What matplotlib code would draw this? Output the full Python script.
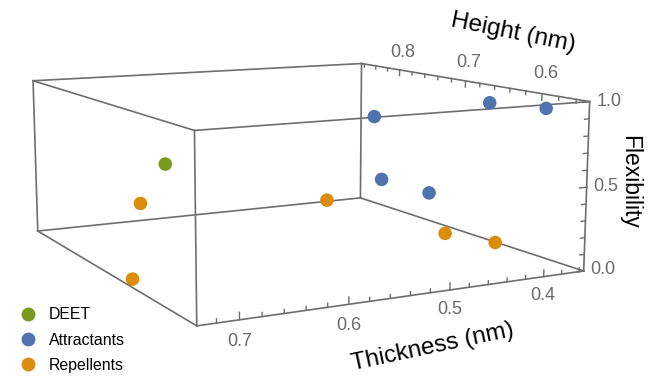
import numpy as np
import matplotlib
matplotlib.use("Agg")
import matplotlib.pyplot as plt
from matplotlib.lines import Line2D

# --- data (thickness nm, height nm, flexibility) ---------------------------
deet_thick = [0.655]
deet_height = [0.75]
deet_flex = [0.545]

attr_thick = [0.575, 0.438, 0.398, 0.490, 0.478]
attr_height = [0.548, 0.573, 0.55, 0.65, 0.60]
attr_flex = [1.0, 1.0, 0.973, 0.486, 0.463]

rep_thick = [0.681, 0.444, 0.418, 0.404, 0.734]
rep_height = [0.75, 0.80, 0.65, 0.60, 0.66]
rep_flex = [0.313, 0.125, 0.105, 0.117, 0.036]

labels = ["DEET", "Attractants", "Repellents"]

thick_ticks = [0.4, 0.5, 0.6, 0.7]
height_ticks = [0.6, 0.7, 0.8]
flex_ticks = [0.0, 0.5, 1.0]

xlim = (0.737, 0.355)  # thickness runs right to left
ylim = (0.545, 0.865)
zlim = (0.0, 1.0)

C_DEET = "#789a1e"
C_ATTR = "#4e73ae"
C_REP = "#db8c0a"
EDGE = "#6e6e6e"
TICKLBL = "#6a6a6a"

plt.rcParams["font.family"] = ["Liberation Sans", "DejaVu Sans"]

fig = plt.figure(figsize=(6.57, 3.8), dpi=100)
# camera fitted to the reference box corners (perspective, Mathematica-like)
ax = fig.add_axes([0.17404, 0.07723, 0.53272, 0.92105], projection="3d",
                  computed_zorder=False)
ax.set_xlim(*xlim)
ax.set_ylim(*ylim)
ax.set_zlim(*zlim)
ax.set_box_aspect((1, 1.0363, 0.4029), zoom=1.6635)
ax.set_proj_type("persp", focal_length=0.7574)
ax.view_init(elev=9.799, azim=-117.966)
ax.set_xticks([])
ax.set_yticks([])
ax.set_zticks([])
ax.set_axis_off()
# the built-in (empty) axis texts are never shown
for txt in (ax.title, ax._left_title, ax._right_title):
    txt.set_visible(False)
for axis in (ax.xaxis, ax.yaxis, ax.zaxis):
    axis.label.set_visible(False)
    axis.offsetText.set_visible(False)

M = ax.get_proj()


def edge(xs, ys, zs, lw=1.2):
    ax.plot(xs, ys, zs, color=EDGE, lw=lw, zorder=1, clip_on=False)


def tick_label(x, y, z, s, **kw):
    # project the 3D anchor once, then place a plain 2D text there
    v = M @ np.array([x, y, z, 1.0])
    ax.text2D(v[0] / v[3], v[1] / v[3], s, transform=ax.transData,
              color=TICKLBL, fontsize=13, va="center", **kw)


# --- bounding box -----------------------------------------------------------
x0, x1 = xlim
y0, y1 = ylim
z0, z1 = zlim
for ya in (y0, y1):
    for za in (z0, z1):
        edge([x0, x1], [ya, ya], [za, za])
for xa in (x0, x1):
    for za in (z0, z1):
        edge([xa, xa], [y0, y1], [za, za])
for xa in (x0, x1):
    for ya in (y0, y1):
        edge([xa, xa], [ya, ya], [z0, z1])

# thickness axis on the front bottom edge
for t in np.arange(0.36, 0.7301, 0.02):
    major = any(abs(t - m) < 1e-6 for m in thick_ticks)
    edge([t, t], [y0, y0], [z0, z0 + (0.04 if major else 0.022)], lw=1.0)
for t in thick_ticks:
    tick_label(t, y0, z0 - 0.115, f"{t:.1f}", ha="center")

# height axis on the top right edge
for h in np.arange(0.56, 0.8601, 0.02):
    major = any(abs(h - m) < 1e-6 for m in height_ticks)
    edge([x1, x1], [h, h], [z1, z1 - (0.04 if major else 0.022)], lw=1.0)
for h in height_ticks:
    tick_label(x1 - 0.004, h, z1 + 0.12, f"{h:.1f}", ha="center")

# flexibility axis on the front right edge
for f in np.arange(0.0, 1.0001, 0.1):
    major = any(abs(f - m) < 1e-6 for m in flex_ticks)
    edge([x1, x1 + (0.008 if major else 0.005)], [y0, y0], [f, f], lw=1.0)
for f in flex_ticks:
    tick_label(x1 - 0.008, y0, f, f"{f:.1f}", ha="left")

# --- points -----------------------------------------------------------------
for xs, ys, zs, col in ((rep_thick, rep_height, rep_flex, C_REP),
                        (attr_thick, attr_height, attr_flex, C_ATTR),
                        (deet_thick, deet_height, deet_flex, C_DEET)):
    ax.scatter(xs, ys, zs, color=col, s=95, depthshade=False,
               edgecolors="none", zorder=3, clip_on=False)

# axis titles
fig.text(433 / 657, 1 - 347 / 380, "Thickness (nm)", fontsize=17.5,
         rotation=12, ha="center", va="center", rotation_mode="anchor")
fig.text(513 / 657, 1 - 33 / 380, "Height (nm)", fontsize=17.5,
         rotation=-11.5, ha="center", va="center", rotation_mode="anchor")
fig.text(630 / 657, 1 - 182 / 380, "Flexibility", fontsize=16.5,
         rotation=-90, ha="center", va="center", rotation_mode="anchor")

handles = [Line2D([], [], ls="none", marker="o", ms=10, color=c, mec="none")
           for c in (C_DEET, C_ATTR, C_REP)]
fig.legend(handles, labels, loc="upper left",
           bbox_to_anchor=(0.018, 1 - 301 / 380), frameon=False,
           fontsize=11.4, handletextpad=0.75, labelspacing=0.65,
           handlelength=1.2, borderaxespad=0.0)

fig.savefig("out.png", dpi=100)
